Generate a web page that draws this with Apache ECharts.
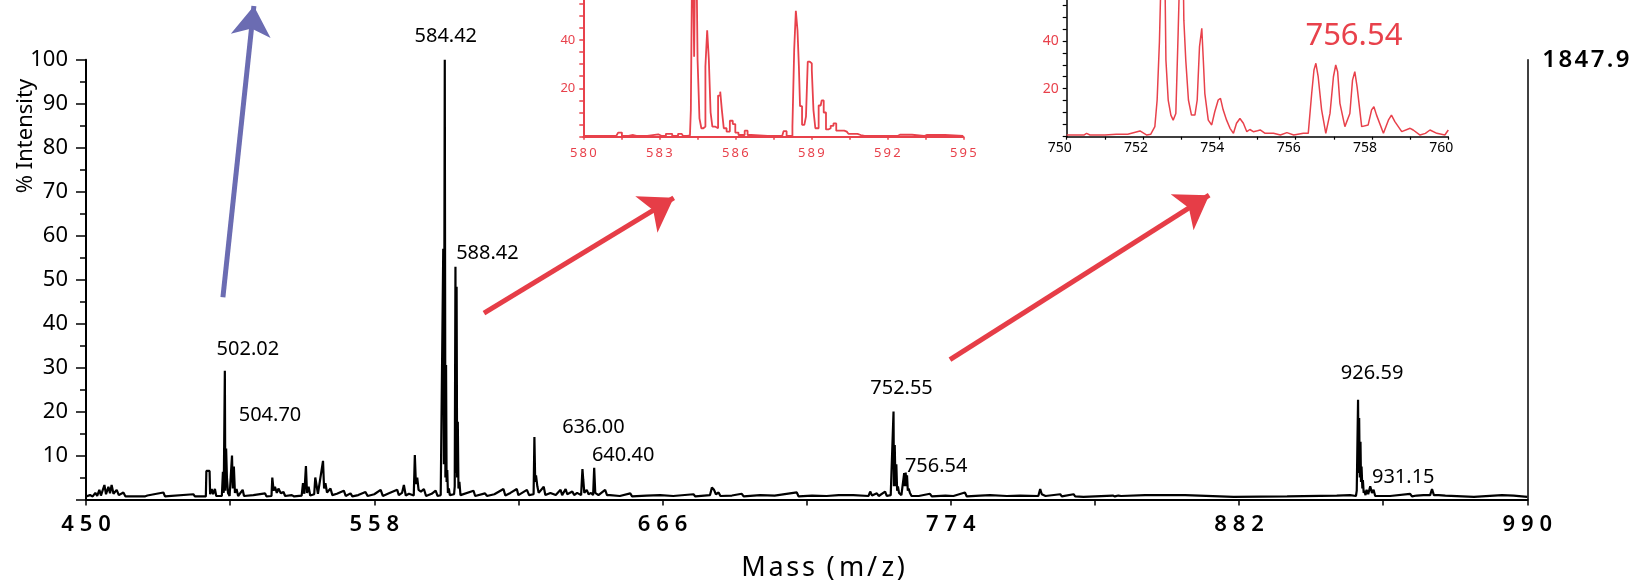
<!DOCTYPE html>
<html>
<head>
<meta charset="utf-8">
<title>Mass spectrum</title>
<script src="https://cdn.jsdelivr.net/npm/echarts@6.0.0/dist/echarts.min.js"></script>
<style>
  html, body { margin: 0; padding: 0; background: #fff; }
  #chart { width: 1643px; height: 586px; }
</style>
</head>
<body>
<div id="chart"></div>
<script>
// ---- main spectrum: m/z and % intensity ----
const mainMz = [
  450, 451.5, 452.5, 453.5, 454.2, 455.0, 455.6, 456.9, 457.5, 458.4, 459.0, 459.6, 460.3, 461.5, 462.3, 464.0, 464.8,
  472, 473, 479.0, 479.6, 490.2, 490.8, 494.9, 495.1, 496.3, 496.5, 497.1, 497.6, 498.3, 498.8, 500.9,
  501.3, 501.6, 502.02, 502.2, 502.5, 502.8, 503.2, 503.8, 504.7, 505.0, 505.4, 505.8, 506.4, 507, 508.7, 509.2,
  512.7, 513.3, 517.1, 517.6, 519.5, 519.8, 520.3, 520.8, 521.5, 522.1, 523, 524.0, 524.6, 527.1, 528,
  530.8, 531.3, 531.8, 532.4, 532.8, 533.4, 534.0, 535.5, 535.9, 536.4, 536.9, 537.6, 538.8, 539.2, 539.7, 540.3,
  541.6, 542.3, 544, 546.6, 547.3, 549.1, 549.8, 552, 554.7, 555.5, 558, 560.4, 561.2, 563.5, 566.6, 567.2,
  568.4, 569.1, 569.8, 571, 572.8, 573.2, 573.6, 574.1, 574.6, 575.5, 576.6, 577.4, 579.5, 581.0, 581.7, 582.9,
  583.6, 583.85, 584.1, 584.42, 584.65, 584.9, 585.1, 585.35, 585.6, 585.95, 586.3, 587.9, 588.15, 588.42, 588.62,
  588.85, 589.05, 589.3, 589.55, 589.9, 590.3, 590.8, 595.2, 595.8, 599.5, 600.2, 603, 606.4, 607.1, 609, 611.4,
  612, 615.2, 616, 617.7, 618.0, 618.3, 618.6, 619.1, 619.6, 621.5, 622.1, 624, 626, 627.8, 628.4, 629.7, 630.3,
  632.2, 632.9, 634, 635.5, 636.0, 636.3, 636.7, 637.6, 638.3, 639.2, 640.0, 640.4, 640.8, 641.3, 642, 644.5,
  645.2, 646.3, 650, 653.9, 654.6, 660, 665.1, 670, 677.6, 678.3, 683.8, 684.5, 685.3, 686, 687.0, 687.7, 692,
  695.7, 696.4, 702.6, 708, 716.3, 717, 722, 727.5, 732, 737.5, 743.2, 743.8, 744.5, 746.3, 747, 749.4, 750,
  751.5, 752.1, 752.55, 752.7, 753.0, 753.3, 753.6, 753.9, 754.2, 754.6, 755.5, 756.2, 756.54, 756.8, 757.1,
  757.35, 757.6, 757.9, 758.2, 758.7, 759.3, 760.0, 762, 766.2, 766.9, 772, 775, 779.3, 780, 785, 788.7, 795,
  800, 806.8, 807.5, 808.1, 808.7, 809.5, 815.0, 815.6, 820.0, 820.6, 823.7, 834.7, 835.5, 836.8, 837.8, 846.8,
  847.5, 861.8, 862.5, 880, 900, 918.6, 923.6, 925.8, 926.1, 926.59, 926.8, 927.0, 927.25, 927.5, 927.7, 927.9,
  928.2, 928.4, 928.7, 928.9, 929.4, 929.8, 930.4, 931.15, 931.8, 932.4, 933, 938.6, 946.1, 946.8, 948.6, 951.1,
  953.6, 954.3, 955.0, 956.8, 959.3, 960, 970, 980.5, 981, 984.9, 985.5, 990
];
const mainInt = [
  0.7, 1.0, 0.7, 1.5, 0.8, 2.2, 0.9, 3.3, 1.2, 2.9, 1.4, 3.3, 1.3, 2.2, 1.0, 1.6, 0.7,
  0.7, 0.9, 1.6, 0.7, 1.2, 0.7, 0.7, 6.5, 6.5, 1.2, 2.4, 1.2, 2.4, 0.8, 0.8,
  6.3, 1.5, 29.3, 2.0, 11.6, 5.0, 1.5, 0.8, 10.0, 2.5, 7.5, 1.5, 2.4, 0.8, 2.2, 0.8,
  1.0, 0.7, 1.4, 0.7, 0.8, 5.0, 2.0, 2.9, 1.5, 2.5, 1.4, 1.7, 0.8, 1.0, 0.7,
  0.9, 3.7, 1.3, 7.6, 1.5, 2.9, 0.9, 1.2, 5.0, 4.6, 1.3, 1.5, 8.8, 2.5, 3.7, 1.6,
  2.5, 1.0, 1.3, 2.0, 0.8, 1.4, 0.7, 1.0, 1.7, 0.8, 1.2, 2.2, 0.8, 1.4, 2.2, 1.0,
  1.5, 3.3, 0.9, 1.3, 0.9, 10.1, 3.5, 5.0, 2.2, 1.8, 2.4, 0.8, 1.3, 2.0, 0.8, 1.0,
  0.9, 57, 8, 100, 5, 30.6, 4, 6.7, 1.5, 2.5, 1.0, 1.2, 3, 52.9, 6,
  48.4, 5, 17.7, 2.5, 4, 1.0, 1.0, 2.0, 0.8, 1.4, 0.8, 1.2, 2.4, 0.9, 1.5, 2.4,
  1.0, 2.2, 1.0, 1.2, 14.2, 4, 5.5, 3, 1.5, 2.9, 1.0, 1.5, 1.0, 2.2, 1.0, 2.4, 1.2,
  1.8, 1.0, 1.5, 1.0, 6.9, 4.5, 1.5, 2.2, 1.2, 1.5, 1.0, 7.2, 1.5, 1.8, 1.0, 2.2,
  1.0, 1.0, 0.8, 1.4, 0.7, 0.9, 1.0, 0.8, 1.2, 0.7, 1.0, 2.7, 2.2, 1.2, 1.6, 0.8, 0.9,
  1.3, 0.7, 1.0, 0.9, 1.6, 0.7, 0.9, 0.8, 1.0, 1.0, 0.8, 1.8, 0.9, 1.4, 0.8, 1.8, 0.8,
  1.0, 1.2, 20, 3, 12.4, 3, 8, 2, 3, 1.5, 1.0, 1.2, 6.0, 3, 6.1,
  3, 5.5, 2, 2.5, 1.5, 0.8, 1.0, 0.8, 1.3, 0.7, 0.9, 0.8, 1.6, 0.7, 0.9, 1.0, 0.8,
  0.9, 0.8, 2.4, 1.2, 1.6, 0.8, 1.2, 0.7, 1.2, 0.7, 0.6, 0.9, 0.7, 0.9, 0.8, 1.0,
  0.6, 1.0, 0.6, 0.6, 0.7, 0.9, 1.0, 0.8, 2, 22.7, 6, 18.5, 5, 13.1, 4, 7.5,
  2.5, 4.4, 1.5, 2, 1.0, 2.2, 1.2, 3.0, 1.5, 2.2, 0.8, 0.8, 1.3, 0.7, 0.9, 1.0,
  1.0, 2.4, 1.0, 1.0, 0.9, 0.6, 0.6, 1.0, 0.6, 0.9, 0.6, 0.6
];

// labelled peaks of the main spectrum
const peakLabelMz  = [502.02, 504.70, 584.42, 588.42, 636.00, 640.40, 752.55, 756.54, 926.59, 931.15];
const peakLabelInt = [29.3, 10.0, 100, 52.9, 6.9, 7.2, 20, 6.0, 22.7, 3.0];
const peakLabelText = ['502.02', '504.70', '584.42', '588.42', '636.00', '640.40', '752.55', '756.54', '926.59', '931.15'];

// main axes
const mainTickValues  = [450, 504, 558, 612, 666, 720, 774, 828, 882, 936, 990];
const mainLabelValues = [450, 558, 666, 774, 882, 990];
const absIntensity = '1847.9';

// ---- inset 1: 580-595 ----
const inset1Mz = [
  580.0, 581.3, 581.45, 581.6, 581.97, 582.1, 582.96, 583.1, 583.42, 583.6, 583.88, 584.0, 584.21, 584.28, 584.34,
  584.41, 584.47, 584.55, 584.62, 584.7, 584.78, 584.86, 584.92, 584.99, 585.06, 585.13, 585.27, 585.37, 585.44,
  585.5, 585.59, 585.72, 585.85, 585.95, 586.05, 586.2, 586.32, 586.42, 586.55, 586.7, 587.85, 587.96, 588.09,
  588.22, 588.29, 588.36, 588.42, 588.49, 588.53, 588.58, 588.69, 588.76, 588.82, 588.9, 588.98, 589.06, 589.11,
  589.21, 589.37, 589.45, 589.53, 589.63, 589.72, 589.81, 589.94, 590.03, 590.2, 590.4, 590.53, 590.7, 590.95,
  591.1, 592.4, 592.5, 593.45, 593.55, 595
];
const inset1Int = [
  0.3, 0.3, 1.7, 0.3, 0.7, 0.3, 1.0, 0.3, 1.2, 0.3, 1.2, 0.3, 0.5, 11, 90,
  33, 100, 32, 7.6, 3.5, 4.2, 29, 44, 32, 10, 4.2, 3.5, 17, 18.6,
  11, 3.5, 2.1, 6.6, 5.2, 1.7, 0.7, 0.7, 2.5, 0.7, 0.3, 0.3, 2.3, 0.3,
  0.3, 4.2, 36, 52, 44, 29, 12.6, 4.9, 5, 8.3, 31, 30.3, 27.5, 11,
  3.5, 12.9, 15, 10, 3.0, 3.5, 4.5, 5.5, 2.5, 2.5, 2.1, 1.2, 1.2, 0.7,
  0.3, 0.3, 0.8, 0.3, 0.7, 0.3
];
const inset1TickValues  = [580, 581.5, 583, 584.5, 586, 587.5, 589, 590.5, 592, 593.5, 595];
const inset1LabelValues = [580, 583, 586, 589, 592, 595];

// ---- inset 2: 750-760 ----
const inset2Mz = [
  750.0, 750.45, 750.52, 750.61, 751.0, 751.3, 751.35, 751.6, 751.92, 752.1, 752.2, 752.31, 752.37, 752.43, 752.5,
  752.55, 752.6, 752.66, 752.73, 752.79, 752.86, 752.92, 752.98, 753.04, 753.07, 753.12, 753.19, 753.27, 753.36,
  753.42, 753.48, 753.54, 753.58, 753.62, 753.71, 753.8, 753.88, 753.97, 754.03, 754.1, 754.19, 754.28, 754.37,
  754.45, 754.54, 754.63, 754.72, 754.8, 754.89, 755.0, 755.07, 755.2, 755.42, 755.6, 755.77, 755.95, 756.2,
  756.33, 756.42, 756.48, 756.53, 756.59, 756.68, 756.79, 756.9, 756.99, 757.05, 757.1, 757.16, 757.29, 757.42,
  757.49, 757.55, 757.61, 757.73, 757.9, 757.99, 758.05, 758.12, 758.3, 758.43, 758.51, 758.6, 758.78, 759.0,
  759.08, 759.26, 759.4, 759.52, 759.7, 759.91, 760.0
];
const inset2Int = [
  0.7, 0.7, 1.4, 0.7, 0.7, 1.0, 1.4, 1.0, 2.4, 0.7, 1.0, 4.2, 15.3, 39.6, 85,
  100, 32, 15.3, 9.0, 6.9, 9.7, 43, 80, 85, 48.6, 32, 15.3, 9.0, 9.0,
  15.3, 37.5, 45.2, 32, 18, 6.9, 4.9, 10.4, 15.3, 16, 11.2, 6.9, 3.5, 1.4,
  5.6, 7.6, 5.6, 2.1, 3.0, 2.1, 2.5, 2.8, 1.4, 1.4, 0.7, 1.7, 0.7, 1.4,
  1.4, 18, 27.8, 30.6, 25, 11.2, 1.4, 9.7, 25, 29.9, 27.1, 13.9, 4.2, 9.7,
  23.6, 27.1, 20.8, 4.2, 4.9, 11.2, 12.5, 9.0, 1.4, 6.9, 9.0, 6.3, 2.1, 3.5,
  2.8, 0.7, 1.4, 2.8, 1.4, 0.7, 2.8
];
const inset2TickValues  = [750, 751, 752, 753, 754, 755, 756, 757, 758, 759, 760];
const inset2LabelValues = [750, 752, 754, 756, 758, 760];
const inset2PeakMz = 756.53, inset2PeakInt = 30.6, inset2PeakText = '756.54';

const insetYTicks = [0, 5, 10, 15, 20, 25, 30, 35, 40, 45, 50, 55];
const insetYLabels = [20, 40];

// ---- arrows, tail and tip in main-chart data coordinates [m/z, %] ----
const arrowTail = [[501.3, 46.0], [599.1, 42.4], [773.7, 31.8]];
const arrowTip  = [[512.9, 112.2], [670.2, 68.6], [870.8, 69.2]];
const arrowColor = ['#6b6cb2', '#e63d47', '#e63d47'];

// ---- styling ----
const RED = '#e8414b';
const INK = '#000';
const FONT = '"Noto Sans", "Open Sans", sans-serif';
const HAIR = '\u200a', THIN = '\u2009';
const spaced = (s, sp) => String(s).split('').join(sp);

const pairs = (xs, ys) => xs.map((x, i) => [x, ys[i]]);

const LABEL_OFFSETS = [[23, -21], [38, -40], [1, -23], [32, -14], [11, -42], [29, -13], [8, -23], [32, -7], [14, -26], [33, -9]];
const ARROW_SIZE = [30, 32, 32];

const chart = echarts.init(document.getElementById('chart'), null, { renderer: 'canvas' });

const option = {
  animation: false,
  backgroundColor: '#fff',
  textStyle: { fontFamily: FONT },
  grid: [
    { left: 86, top: 59.7, width: 1441.3, height: 439.8, outerBoundsMode: 'none' },
    { left: 583.3, top: 0, width: 380, height: 136.7, outerBoundsMode: 'none' },
    { left: 1066.7, top: 0, width: 381.6, height: 136.7, outerBoundsMode: 'none' }
  ],
  xAxis: [
    {
      gridIndex: 0, type: 'value', min: 450, max: 990,
      name: spaced('Mass', HAIR) + THIN + ' (' + THIN + 'm' + HAIR + '/' + THIN + 'z' + HAIR + ')',
      nameLocation: 'middle', nameGap: 55,
      nameTextStyle: { fontSize: 27, color: INK, fontFamily: FONT, padding: [0, 0, 0, 33] },
      axisLine: { show: true, onZero: false, lineStyle: { color: INK, width: 2.2 } },
      axisTick: { show: true, customValues: mainTickValues, length: 6, lineStyle: { color: INK, width: 1.5 } },
      axisLabel: {
        customValues: mainLabelValues, margin: 14, fontSize: 22, fontWeight: 600, color: INK,
        formatter: v => spaced(v, THIN + HAIR)
      },
      splitLine: { show: false }
    },
    {
      gridIndex: 1, type: 'value', min: 580, max: 595,
      axisLine: { onZero: false, lineStyle: { color: RED, width: 2 } },
      axisTick: { customValues: inset1TickValues, length: 3, lineStyle: { color: RED, width: 1.5 } },
      axisLabel: { customValues: inset1LabelValues, margin: 10, fontSize: 13, color: RED, formatter: v => spaced(v, THIN) },
      splitLine: { show: false }
    },
    {
      gridIndex: 2, type: 'value', min: 750, max: 760,
      axisLine: { onZero: false, lineStyle: { color: INK, width: 1.5 } },
      axisTick: { customValues: inset2TickValues, length: 3, lineStyle: { color: INK, width: 1.2 } },
      axisLabel: { customValues: inset2LabelValues, margin: 4, fontSize: 14, color: INK, padding: [0, 14, 0, 0] },
      splitLine: { show: false }
    }
  ],
  yAxis: [
    {
      gridIndex: 0, type: 'value', min: 0, max: 100, interval: 10,
      axisLine: { show: true, lineStyle: { color: INK, width: 2 } },
      axisTick: { show: true, length: 10, lineStyle: { color: INK, width: 1.5 } },
      minorTick: { show: true, splitNumber: 2, length: 6, lineStyle: { color: INK, width: 1.5 } },
      axisLabel: { margin: 18, fontSize: 22, color: INK, formatter: v => (v === 0 ? '' : String(v)) },
      splitLine: { show: false }, minorSplitLine: { show: false }
    },
    {
      gridIndex: 0, type: 'value', min: 0, max: 100, position: 'right',
      axisLine: { show: true, lineStyle: { color: INK, width: 1.5 } },
      axisTick: { show: false },
      axisLabel: {
        customValues: [100], margin: 15, fontSize: 24, fontWeight: 600, color: INK,
        formatter: () => spaced(absIntensity, HAIR)
      },
      splitLine: { show: false }
    },
    {
      gridIndex: 1, type: 'value', min: 0, max: 56.5,
      axisLine: { show: true, lineStyle: { color: RED, width: 2 } },
      axisTick: { show: true, customValues: insetYTicks, length: 4, lineStyle: { color: RED, width: 1.5 } },
      axisLabel: { customValues: insetYLabels, margin: 8, fontSize: 13, color: RED },
      splitLine: { show: false }
    },
    {
      gridIndex: 2, type: 'value', min: 0, max: 57,
      axisLine: { show: true, lineStyle: { color: INK, width: 1.5 } },
      axisTick: { show: true, customValues: insetYTicks, length: 4, lineStyle: { color: INK, width: 1.2 } },
      axisLabel: { customValues: insetYLabels, margin: 8, fontSize: 14, color: RED },
      splitLine: { show: false }
    }
  ],
  series: [
    {
      name: 'spectrum', type: 'line', xAxisIndex: 0, yAxisIndex: 0,
      data: pairs(mainMz, mainInt),
      symbol: 'none', lineStyle: { color: '#000', width: 2.2 }, z: 3
    },
    {
      name: 'peak labels', type: 'scatter', xAxisIndex: 0, yAxisIndex: 0,
      symbolSize: 2, itemStyle: { color: 'rgba(255,255,255,0)' }, z: 4,
      data: peakLabelMz.map((m, i) => ({
        value: [m, peakLabelInt[i]],
        label: { offset: LABEL_OFFSETS[i] }
      })),
      label: {
        show: true, position: 'inside', align: 'center', verticalAlign: 'middle',
        fontSize: 20, color: '#000', opacity: 1, textBorderWidth: 0, fontFamily: FONT,
        formatter: p => peakLabelText[p.dataIndex]
      }
    },
    {
      name: 'inset 580-595', type: 'line', xAxisIndex: 1, yAxisIndex: 2,
      data: pairs(inset1Mz, inset1Int), step: 'middle',
      symbol: 'none', lineStyle: { color: RED, width: 1.8 }, z: 3
    },
    {
      name: 'inset 750-760', type: 'line', xAxisIndex: 2, yAxisIndex: 3,
      data: pairs(inset2Mz, inset2Int),
      symbol: 'none', lineStyle: { color: RED, width: 1.5 }, z: 3
    },
    {
      name: 'inset peak label', type: 'scatter', xAxisIndex: 2, yAxisIndex: 3,
      symbolSize: 2, itemStyle: { color: 'rgba(255,255,255,0)' }, z: 4,
      data: [[inset2PeakMz, inset2PeakInt]],
      label: {
        show: true, position: 'inside', align: 'center', verticalAlign: 'middle', offset: [38, -27],
        fontSize: 31, color: RED, opacity: 1, textBorderWidth: 0, fontFamily: FONT, formatter: () => inset2PeakText
      }
    },
    {
      name: 'arrows', type: 'lines', coordinateSystem: 'cartesian2d', xAxisIndex: 0, yAxisIndex: 0,
      clip: false, z: 5,
      symbol: ['none', 'arrow'], symbolSize: 32,
      lineStyle: { width: 5, opacity: 1, curveness: 0 },
      data: arrowTail.map((t, i) => ({
        coords: [t, arrowTip[i]],
        symbolSize: ARROW_SIZE[i],
        lineStyle: { color: arrowColor[i] }
      }))
    }
  ],
  graphic: [
    {
      type: 'text', x: 26, y: 136, rotation: Math.PI / 2,
      style: {
        text: '% Intensity', fontSize: 22, fontFamily: FONT, fill: INK,
        align: 'center', verticalAlign: 'middle'
      }
    }
  ]
};

chart.setOption(option);
</script>
</body>
</html>
